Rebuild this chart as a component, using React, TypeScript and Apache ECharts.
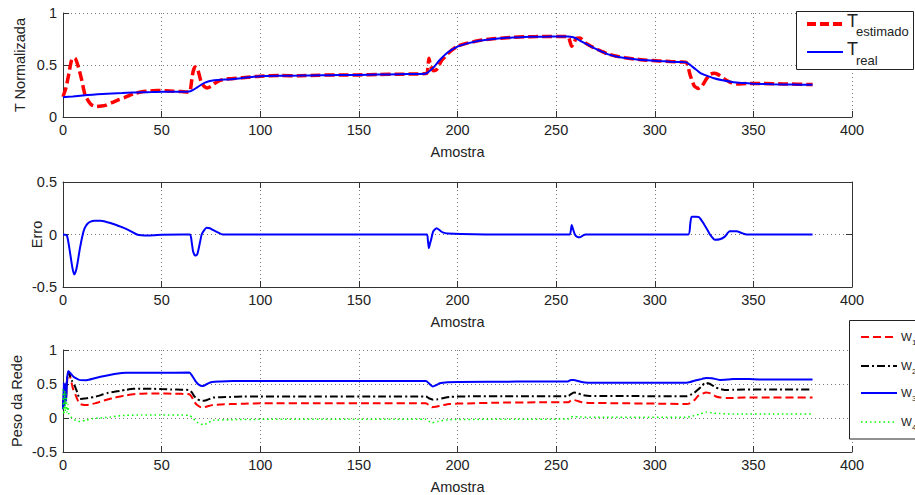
import React, { useEffect, useRef } from "react";
import * as echarts from "echarts";

// ---- Temperatura normalizada (estimada x real) ----
const tEstimadoAmostra = [
  0, 1.5, 2.7, 4.4, 6, 7.8, 9.5, 11.2, 13, 14.6,
  17, 19.5, 22, 25, 28, 31, 34, 37, 40, 44,
  48, 52, 56, 60, 63, 64.4, 65.3, 66, 67, 68,
  69, 70, 71.5, 73, 75, 77, 80, 84, 91, 100,
  110, 120, 130, 140, 150, 160, 170, 180, 184.4, 185.5,
  186.3, 187.7, 189.4, 192, 196, 200, 205, 211, 217, 222,
  228, 234, 240, 246, 252, 256, 257.9, 259, 260.2, 262,
  265, 269, 273, 276, 280, 285, 290, 296, 302, 308,
  313, 316, 318, 320, 322, 324, 326, 328, 330, 332,
  335, 338, 342, 347, 355, 365, 380,
];
const tEstimado = [
  0.195, 0.28, 0.39, 0.55, 0.567, 0.48, 0.355, 0.21, 0.15, 0.115,
  0.1, 0.105, 0.115, 0.14, 0.165, 0.185, 0.21, 0.23, 0.243, 0.25,
  0.255, 0.252, 0.248, 0.245, 0.24, 0.245, 0.36, 0.44, 0.48, 0.47,
  0.41, 0.34, 0.295, 0.28, 0.295, 0.325, 0.355, 0.367, 0.378, 0.393,
  0.398, 0.397, 0.402, 0.404, 0.405, 0.409, 0.411, 0.414, 0.42, 0.565,
  0.5, 0.445, 0.455, 0.545, 0.625, 0.68, 0.71, 0.735, 0.75, 0.757,
  0.767, 0.771, 0.773, 0.775, 0.774, 0.773, 0.68, 0.71, 0.757, 0.76,
  0.71, 0.667, 0.632, 0.607, 0.586, 0.57, 0.557, 0.546, 0.539, 0.533,
  0.529, 0.525, 0.4, 0.3, 0.275, 0.3, 0.36, 0.41, 0.42, 0.41,
  0.37, 0.335, 0.318, 0.322, 0.322, 0.318, 0.312,
];

const tRealAmostra = [
  0, 5, 10, 15, 20, 25, 30, 35, 40, 45,
  50, 55, 60, 64, 66, 68, 70, 72, 74, 76,
  80, 85, 91, 100, 110, 120, 130, 140, 150, 160,
  170, 180, 184, 186, 188, 191, 195, 200, 205, 211,
  217, 222, 228, 234, 240, 246, 252, 256, 258, 260,
  262, 265, 269, 273, 276, 280, 285, 290, 296, 302,
  308, 313, 316, 318, 320, 323, 326, 330, 335, 340,
  345, 350, 360, 370, 380,
];
const tReal = [
  0.19, 0.198, 0.207, 0.215, 0.222, 0.227, 0.231, 0.235, 0.238, 0.24,
  0.242, 0.243, 0.243, 0.245, 0.26, 0.285, 0.31, 0.33, 0.343, 0.352,
  0.358, 0.363, 0.375, 0.392, 0.396, 0.398, 0.401, 0.403, 0.405, 0.408,
  0.411, 0.414, 0.418, 0.445, 0.48, 0.548, 0.62, 0.676, 0.708, 0.734,
  0.748, 0.757, 0.765, 0.769, 0.772, 0.773, 0.774, 0.773, 0.77, 0.757,
  0.735, 0.705, 0.665, 0.63, 0.605, 0.585, 0.568, 0.556, 0.545, 0.538,
  0.532, 0.528, 0.525, 0.5, 0.47, 0.425, 0.4, 0.372, 0.35, 0.335,
  0.327, 0.32, 0.315, 0.312, 0.31,
];

// ---- Erro ----
const erroAmostra = [
  0, 2, 3.5, 4.8, 5.7, 6.5, 7.2, 8.6, 10, 11,
  12.3, 13.7, 16, 19, 22, 24, 27, 30.5, 34, 37.5,
  40, 42.5, 46, 50, 60, 64.4, 65.3, 66, 67, 68,
  68.6, 69.5, 70.3, 71.5, 72.8, 74.5, 76, 78.5, 81, 100,
  140, 184.4, 185, 185.5, 186, 186.6, 187.7, 189.4, 191, 192.5,
  195, 220, 255, 257, 257.9, 258.6, 259.5, 260.5, 262, 263.5,
  265, 300, 317, 318, 318.7, 321, 322.5, 324.6, 326.5, 328,
  330.5, 333, 335.5, 338, 341.5, 344, 346.6, 365, 380,
];
const erro = [
  0, -0.01, -0.165, -0.32, -0.38, -0.35, -0.29, -0.13, 0, 0.06,
  0.1, 0.12, 0.13, 0.13, 0.12, 0.11, 0.09, 0.065, 0.035, 0,
  -0.008, -0.01, -0.008, -0.003, 0, 0, -0.08, -0.165, -0.2, -0.19,
  -0.15, -0.07, 0, 0.04, 0.065, 0.06, 0.043, 0.02, 0, 0,
  0, 0, -0.06, -0.13, -0.09, -0.05, 0.03, 0.06, 0.04, 0.02,
  0.01, 0, 0, 0, 0.09, 0.05, 0, -0.02, -0.027, -0.01,
  0, 0, 0, 0.1, 0.17, 0.17, 0.165, 0.11, 0.05, 0,
  -0.05, -0.045, -0.02, 0.03, 0.03, 0.015, 0, 0, 0,
];

// ---- Pesos da rede ----
const w1Amostra = [
  0, 0.7, 1.4, 2, 2.7, 3.5, 4.3, 5.2, 6.5, 7.5,
  8.6, 10, 12, 14, 16, 18, 20.4, 23, 26, 29,
  32, 35.7, 40, 45, 50, 55, 60, 64, 65.5, 66.5,
  68, 70, 71.5, 73, 76, 80, 85, 92, 100, 130,
  160, 184, 185.5, 187, 189, 192, 196, 205, 220, 240,
  256, 257.5, 259, 261, 263, 267, 280, 300, 316, 318,
  320, 322, 324, 326, 327.5, 329, 331, 333.5, 336.5, 340,
  345, 360, 380,
];
const w1 = [
  0.15, 0.35, 0.25, 0.5, 0.67, 0.62, 0.52, 0.42, 0.33, 0.26,
  0.206, 0.195, 0.19, 0.2, 0.215, 0.232, 0.254, 0.275, 0.298, 0.317,
  0.333, 0.35, 0.357, 0.36, 0.36, 0.358, 0.355, 0.35, 0.3, 0.24,
  0.19, 0.158, 0.158, 0.17, 0.19, 0.198, 0.205, 0.21, 0.216, 0.216,
  0.216, 0.216, 0.19, 0.158, 0.165, 0.185, 0.206, 0.215, 0.225, 0.23,
  0.23, 0.255, 0.264, 0.25, 0.232, 0.222, 0.218, 0.212, 0.206, 0.22,
  0.26, 0.326, 0.355, 0.375, 0.37, 0.35, 0.317, 0.3, 0.293, 0.295,
  0.3, 0.3, 0.3,
];

const w2Amostra = [
  0, 0.7, 1.4, 2, 2.7, 3.5, 4.5, 6, 7.3, 8.6,
  10, 12, 14, 16, 18, 20.4, 23, 26, 29, 32,
  35.7, 40, 45, 50, 55, 60, 64, 65.5, 66.5, 68,
  70, 71.5, 73, 76, 80, 85, 91, 130, 160, 184,
  185.5, 187.7, 190, 193, 196, 205, 230, 256, 257.5, 259,
  261, 263, 267, 290, 316, 318, 320, 322, 324, 325.5,
  327, 329, 331, 333.5, 336.5, 340, 345, 360, 380,
];
const w2 = [
  0.15, 0.4, 0.3, 0.55, 0.68, 0.62, 0.55, 0.47, 0.37, 0.28,
  0.282, 0.29, 0.3, 0.31, 0.325, 0.35, 0.37, 0.385, 0.4, 0.415,
  0.43, 0.432, 0.43, 0.425, 0.42, 0.415, 0.41, 0.37, 0.32, 0.28,
  0.254, 0.254, 0.265, 0.3, 0.305, 0.31, 0.317, 0.317, 0.317, 0.317,
  0.29, 0.27, 0.275, 0.295, 0.31, 0.318, 0.32, 0.32, 0.35, 0.375,
  0.365, 0.34, 0.325, 0.322, 0.32, 0.34, 0.37, 0.42, 0.47, 0.52,
  0.51, 0.485, 0.447, 0.425, 0.41, 0.415, 0.42, 0.42, 0.42,
];

const w3Amostra = [
  0, 0.4, 0.8, 1.2, 1.6, 2, 2.7, 4, 5.2, 6.5,
  8.6, 12, 16, 19, 23, 27, 32, 40, 50, 64,
  65.5, 67, 68.6, 71, 73, 75.4, 80, 86, 120, 160,
  184, 185.5, 187.4, 189, 191, 195, 200, 230, 256, 257.5,
  259, 261, 263, 266, 290, 316, 318, 321, 324, 326,
  329, 333, 337, 340, 345, 350, 360, 380,
];
const w3 = [
  0.13, 0.52, 0.18, 0.5, 0.25, 0.55, 0.69, 0.65, 0.61, 0.585,
  0.557, 0.556, 0.585, 0.606, 0.63, 0.65, 0.664, 0.666, 0.665, 0.668,
  0.62, 0.55, 0.495, 0.47, 0.5, 0.53, 0.538, 0.543, 0.545, 0.545,
  0.545, 0.51, 0.465, 0.48, 0.51, 0.525, 0.53, 0.535, 0.537, 0.56,
  0.56, 0.545, 0.528, 0.52, 0.52, 0.52, 0.53, 0.555, 0.575, 0.59,
  0.585, 0.56, 0.565, 0.572, 0.575, 0.57, 0.565, 0.565,
];

const w4Amostra = [
  0, 0.4, 0.8, 1.2, 1.6, 2, 2.5, 3, 4, 5,
  6.5, 8.6, 12, 15, 19, 24, 28, 32, 40, 49,
  64, 65.5, 67, 68.5, 71, 73, 76, 85, 100, 150,
  184, 185.5, 187, 190, 196, 230, 256, 257.5, 259, 262,
  270, 316, 318, 320, 323, 326, 329, 333, 340, 360,
  380,
];
const w4 = [
  0.42, 0.05, 0.4, 0.1, 0.35, 0.08, 0.2, 0.06, 0.02, -0.01,
  -0.035, -0.05, -0.03, -0.01, 0, 0.015, 0.03, 0.04, 0.043, 0.045,
  0.04, 0.01, -0.04, -0.07, -0.1, -0.08, -0.035, -0.025, -0.02, -0.02,
  -0.02, -0.05, -0.07, -0.05, -0.025, -0.018, -0.015, 0.015, 0.023, 0.015,
  0.01, 0.01, 0.02, 0.035, 0.06, 0.087, 0.075, 0.065, 0.058, 0.058,
  0.058,
];

const pesoLegenda = ["1", "2", "3", "4"];

const FONT = "'Liberation Sans', Arial, Helvetica, sans-serif";
const AXIS_COLOR = "#333333";
const GRID_COLOR = "#7a7a7a";
const TEXT_COLOR = "#222222";

const zip = (xs: number[], ys: number[]) => xs.map((x, i) => [x, ys[i]]);

const nameStyle = { color: TEXT_COLOR, fontSize: 14.5, fontFamily: FONT };
const labelStyle = { color: TEXT_COLOR, fontSize: 14.5, fontFamily: FONT };

function bottomXAxis(gridIndex: number) {
  return {
    type: "value",
    gridIndex,
    position: "bottom",
    min: 0,
    max: 400,
    interval: 50,
    name: "Amostra",
    nameLocation: "middle",
    nameGap: 27,
    nameMoveOverlap: false,
    nameTextStyle: nameStyle,
    axisLine: { show: true, onZero: false, lineStyle: { color: AXIS_COLOR, width: 1 } },
    axisTick: { show: true, inside: true, length: 6, lineStyle: { color: AXIS_COLOR } },
    axisLabel: { ...labelStyle, margin: 5 },
    splitLine: { show: true, lineStyle: { color: GRID_COLOR, type: [1, 3], width: 1 } },
  };
}

function leftYAxis(gridIndex: number, min: number, max: number, name: string, nameGap: number) {
  return {
    type: "value",
    gridIndex,
    position: "left",
    min,
    max,
    interval: 0.5,
    name,
    nameLocation: "middle",
    nameGap,
    nameMoveOverlap: false,
    nameTextStyle: nameStyle,
    axisLine: { show: true, onZero: false, lineStyle: { color: AXIS_COLOR, width: 1 } },
    axisTick: { show: true, inside: true, length: 6, lineStyle: { color: AXIS_COLOR } },
    axisLabel: { ...labelStyle, margin: 6 },
    splitLine: { show: true, lineStyle: { color: GRID_COLOR, type: [1, 3], width: 1 } },
  };
}

function line(
  name: string,
  xs: number[],
  ys: number[],
  axis: number,
  color: string,
  width: number,
  type: any
) {
  return {
    name,
    type: "line",
    xAxisIndex: axis,
    yAxisIndex: axis,
    data: zip(xs, ys),
    symbol: "none",
    showSymbol: false,
    smooth: 0.2,
    lineStyle: { color, width, type, cap: "butt" },
    emphasis: { disabled: true },
  };
}

function buildOption() {
  const graphic: any[] = [
    // legenda do primeiro gráfico
    {
      type: "rect",
      z: 100,
      shape: { x: 796.5, y: 11.5, width: 117, height: 58 },
      style: { fill: "#ffffff", stroke: "#222222", lineWidth: 1 },
    },
    {
      type: "line",
      z: 101,
      shape: { x1: 807, y1: 24, x2: 843, y2: 24 },
      style: { stroke: "#ff0000", lineWidth: 4, lineDash: [9, 4] },
    },
    {
      type: "text",
      z: 101,
      x: 847,
      y: 20.5,
      style: { text: "T", fontSize: 18, fontFamily: FONT, fill: TEXT_COLOR, verticalAlign: "middle" },
    },
    {
      type: "text",
      z: 101,
      x: 856,
      y: 31.5,
      style: { text: "estimado", fontSize: 13, fontFamily: FONT, fill: TEXT_COLOR, verticalAlign: "middle" },
    },
    {
      type: "line",
      z: 101,
      shape: { x1: 807, y1: 52, x2: 843, y2: 52 },
      style: { stroke: "#0000ff", lineWidth: 2 },
    },
    {
      type: "text",
      z: 101,
      x: 847,
      y: 49,
      style: { text: "T", fontSize: 18, fontFamily: FONT, fill: TEXT_COLOR, verticalAlign: "middle" },
    },
    {
      type: "text",
      z: 101,
      x: 856,
      y: 60.5,
      style: { text: "real", fontSize: 13, fontFamily: FONT, fill: TEXT_COLOR, verticalAlign: "middle" },
    },
    // legenda dos pesos
    {
      type: "rect",
      z: 100,
      shape: { x: 849.5, y: 320.5, width: 90, height: 118.5 },
      style: { fill: "#ffffff", stroke: "#222222", lineWidth: 1 },
    },
  ];

  const pesoCores = ["#ff0000", "#000000", "#0000ff", "#00ff00"];
  const pesoTracos: any[] = [[8, 4], [8, 3, 2, 3], null, [1.5, 3]];
  const pesoY = [337, 366, 393, 422];
  pesoLegenda.forEach((sub, i) => {
    graphic.push({
      type: "line",
      z: 101,
      shape: { x1: 861, y1: pesoY[i], x2: 897, y2: pesoY[i] },
      style: {
        stroke: pesoCores[i],
        lineWidth: i === 3 ? 1.5 : 2,
        lineDash: pesoTracos[i] || undefined,
      },
    });
    graphic.push({
      type: "text",
      z: 101,
      x: 901,
      y: pesoY[i] - 0.5,
      style: { text: "W", fontSize: 11.5, fontFamily: FONT, fill: TEXT_COLOR, verticalAlign: "middle" },
    });
    graphic.push({
      type: "text",
      z: 101,
      x: 912,
      y: pesoY[i] + 5,
      style: { text: sub, fontSize: 8, fontFamily: FONT, fill: TEXT_COLOR, verticalAlign: "middle" },
    });
  });

  const middleTop = {
    type: "value",
    gridIndex: 1,
    position: "top",
    min: 0,
    max: 400,
    interval: 50,
    axisLine: { show: true, onZero: false, lineStyle: { color: AXIS_COLOR, width: 1 } },
    axisTick: { show: true, inside: true, length: 6, lineStyle: { color: AXIS_COLOR } },
    axisLabel: { show: false },
    splitLine: { show: false },
  };
  const middleRight = {
    type: "value",
    gridIndex: 1,
    position: "right",
    min: -0.5,
    max: 0.5,
    interval: 0.5,
    axisLine: { show: true, onZero: false, lineStyle: { color: AXIS_COLOR, width: 1 } },
    axisTick: { show: true, inside: true, length: 6, lineStyle: { color: AXIS_COLOR } },
    axisLabel: { show: false },
    splitLine: { show: false },
  };

  return {
    animation: false,
    backgroundColor: "#ffffff",
    grid: [
      { left: 63, top: 13, width: 789, height: 104 },
      { left: 63, top: 182, width: 789, height: 105 },
      { left: 63, top: 350, width: 789, height: 104 },
    ],
    xAxis: [bottomXAxis(0), bottomXAxis(1), bottomXAxis(2), middleTop],
    yAxis: [
      leftYAxis(0, 0, 1, "T Normalizada", 36),
      leftYAxis(1, -0.5, 0.5, "Erro", 19),
      leftYAxis(2, -0.5, 1, "Peso da Rede", 39),
      middleRight,
    ],
    series: [
      line("Testimado", tEstimadoAmostra, tEstimado, 0, "#ff0000", 3.5, [10, 4]),
      line("Treal", tRealAmostra, tReal, 0, "#0000ff", 2, "solid"),
      line("Erro", erroAmostra, erro, 1, "#0000ff", 2, "solid"),
      line("W1", w1Amostra, w1, 2, "#ff0000", 2, [8, 4]),
      line("W2", w2Amostra, w2, 2, "#000000", 2, [8, 3, 2, 3]),
      line("W3", w3Amostra, w3, 2, "#0000ff", 2, "solid"),
      line("W4", w4Amostra, w4, 2, "#00ff00", 1.5, [1.5, 3]),
    ],
    graphic,
  };
}

export default function App() {
  const ref = useRef<HTMLDivElement>(null);
  useEffect(() => {
    if (!ref.current) return;
    const chart = echarts.init(ref.current, undefined, { renderer: "svg" });
    chart.setOption(buildOption() as any);
    return () => chart.dispose();
  }, []);
  return (
    <div
      ref={ref}
      style={{ position: "fixed", left: 0, top: 0, width: 915, height: 495, background: "#fff" }}
    />
  );
}
